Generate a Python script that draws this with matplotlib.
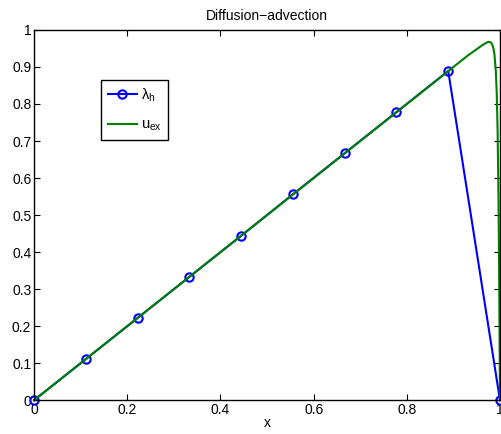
import matplotlib
matplotlib.use("Agg")
import matplotlib.pyplot as plt

plt.rcParams['font.family'] = ['Liberation Sans', 'DejaVu Sans']

# discrete solution lambda_h at the nodes
x_h = [0, 1/9, 2/9, 3/9, 4/9, 5/9, 6/9, 7/9, 8/9, 1]
lam_h = [0, 0.111, 0.222, 0.333, 0.444, 0.556, 0.667, 0.778, 0.889, 0]

# exact solution
x_ex = [0, 0.5, 0.93, 0.95, 0.96, 0.97, 0.976, 0.981, 0.985, 0.988, 0.991,
        0.993, 0.995, 0.997, 0.998, 0.999, 1.0]
u_ex = [0, 0.5, 0.93, 0.948, 0.957, 0.965, 0.968, 0.966, 0.955, 0.935, 0.89,
        0.83, 0.72, 0.52, 0.37, 0.19, 0.0]

fig = plt.figure(figsize=(5.02, 4.34), dpi=100)
ax = fig.add_axes([0.068, 0.078, 0.928, 0.853])

ax.plot(x_h, lam_h, color='#0000ff', marker='o', markersize=6, mfc='none',
        mew=1.5, lw=1.5, label=r'$\mathregular{\lambda_h}$', clip_on=False)
ax.plot(x_ex, u_ex, color='#008000', lw=1.5, label=r'$\mathregular{u_{ex}}$',
        clip_on=False)

ax.set_xlim(0, 1)
ax.set_ylim(0, 1)
ax.set_xticks([0, 0.2, 0.4, 0.6, 0.8, 1])
ax.set_xticklabels(['0', '0.2', '0.4', '0.6', '0.8', '1'])
ax.set_yticks([i / 10 for i in range(11)])
ax.set_yticklabels(['0', '0.1', '0.2', '0.3', '0.4', '0.5', '0.6', '0.7',
                    '0.8', '0.9', '1'])
ax.tick_params(direction='in', length=4, labelsize=10, top=True, right=True,
               pad=2)
for s in ax.spines.values():
    s.set_linewidth(1.0)

ax.set_title('Diffusion\u2212advection', fontsize=10, pad=7)
ax.set_xlabel('x', fontsize=10, labelpad=-1)

leg = ax.legend(loc='upper left', bbox_to_anchor=(0.144, 0.865), fontsize=10.5,
                fancybox=False, edgecolor='black', framealpha=1,
                handlelength=2.0, borderpad=0.45, labelspacing=0.95,
                handletextpad=0.25, borderaxespad=0)
leg.get_frame().set_linewidth(1.0)

fig.savefig('out.png', dpi=100)
